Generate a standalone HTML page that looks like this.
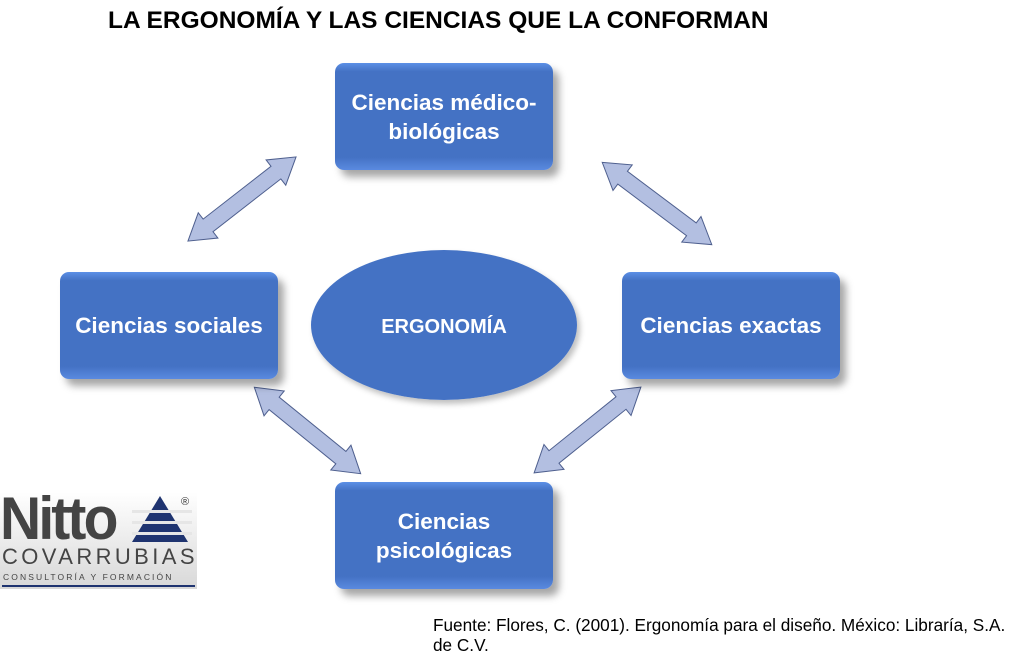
<!DOCTYPE html>
<html><head><meta charset="utf-8"><style>
body{margin:0;width:1023px;height:667px;background:#fff;position:relative;overflow:hidden;font-family:"Liberation Sans",sans-serif}
.t{position:absolute;left:108px;top:7px;font-size:24.5px;font-weight:bold;color:#000;white-space:nowrap}
.box{position:absolute;width:218px;height:107px;border-radius:9px;background:linear-gradient(#5b8fe6 0,#4472c4 8%,#4472c4 88%,#5a8ae0 100%);box-shadow:6px 7px 8px rgba(0,0,0,0.35);color:#fff;font-family:"Liberation Sans",sans-serif;font-weight:bold;font-size:22.5px;display:flex;align-items:center;justify-content:center;text-align:center;line-height:29px}
.ell{position:absolute;left:311px;top:250px;width:266px;height:150px;border-radius:50%;background:radial-gradient(ellipse at 50% 50%,#4472c4 70%,#5a90ea 100%);box-shadow:3px 4px 6px rgba(0,0,0,0.25);color:#fff;font-family:"Liberation Sans",sans-serif;font-weight:bold;font-size:20px;display:flex;align-items:center;justify-content:center;padding-top:4px;box-sizing:border-box}
.src{position:absolute;left:433px;top:615px;font-size:17.2px;line-height:20px;color:#000;white-space:nowrap}
</style></head><body>
<div class="t">LA ERGONOMÍA Y LAS CIENCIAS QUE LA CONFORMAN</div>
<svg width="1023" height="667" style="position:absolute;left:0;top:0">
<defs><polygon id="a" points="-68.5,0 -43,-16 -43,-8 43,-8 43,-16 68.5,0 43,16 43,8 -43,8 -43,16" fill="#b3bfe1" stroke="#4e5f8e" stroke-width="1"/></defs>
<use href="#a" transform="translate(242,199) rotate(-37.9)"/>
<use href="#a" transform="translate(657,203.5) rotate(36.9)"/>
<use href="#a" transform="translate(307.5,430.5) rotate(39.1)"/>
<use href="#a" transform="translate(587.5,430) rotate(-38.8)"/>
</svg>
<div class="box" style="left:335px;top:63px">Ciencias médico-<br>biológicas</div>
<div class="box" style="left:60px;top:272px">Ciencias sociales</div>
<div class="box" style="left:622px;top:272px">Ciencias exactas</div>
<div class="box" style="left:335px;top:482px">Ciencias<br>psicológicas</div>
<div class="ell">ERGONOMÍA</div>
<div style="position:absolute;left:0;top:492px;width:197px;height:97px;background:linear-gradient(#fff,#d8d8d8);overflow:hidden">
<div style="position:absolute;left:0px;top:-8px;font-size:60px;font-weight:bold;color:#444;letter-spacing:-3px;transform:scaleX(0.95);transform-origin:left">Nitto</div>
<svg style="position:absolute;left:132px;top:2px" width="62" height="50"><polygon points="28,2 56,48 0,48" fill="#1f3470"/><rect x="0" y="16" width="60" height="3" fill="#e6e6e6"/><rect x="0" y="27" width="60" height="3" fill="#e6e6e6"/><rect x="0" y="38" width="60" height="3" fill="#e6e6e6"/><text x="49" y="11" font-size="11" fill="#333" font-family="Liberation Sans">®</text></svg>
<div style="position:absolute;left:2px;top:52px;font-size:22px;color:#444;letter-spacing:3.4px;white-space:nowrap">COVARRUBIAS</div>
<div style="position:absolute;left:3px;top:80px;font-size:8.5px;color:#444;letter-spacing:2.1px;white-space:nowrap">CONSULTORÍA Y FORMACIÓN</div>
<div style="position:absolute;left:2px;top:93px;width:193px;height:2px;background:#1f3470"></div>
</div>
<div class="src">Fuente: Flores, C. (2001). Ergonomía para el diseño. México: Libraría, S.A.<br>de C.V.</div>
</body></html>
